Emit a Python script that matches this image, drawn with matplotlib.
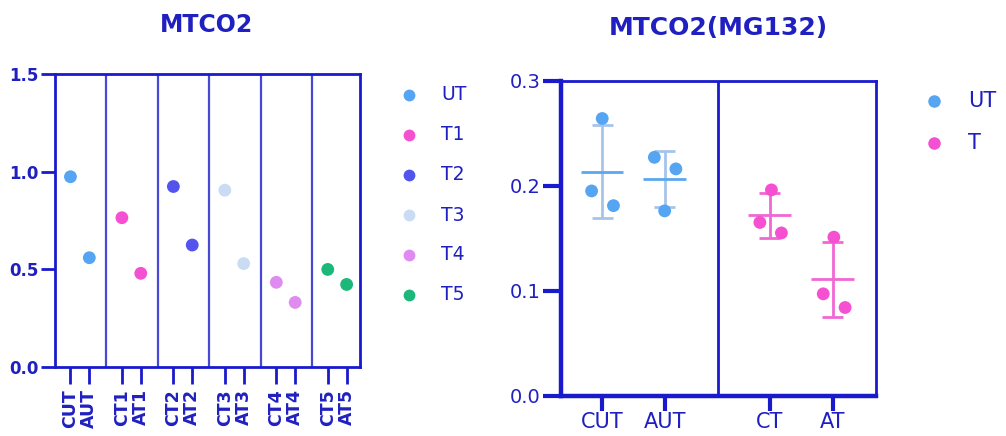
import numpy as np
import matplotlib
matplotlib.use("Agg")
import matplotlib.pyplot as plt
from matplotlib.lines import Line2D

# ---------------- data ----------------
left_labels = ["CUT", "AUT", "CT1", "AT1", "CT2", "AT2", "CT3", "AT3", "CT4", "AT4", "CT5", "AT5"]
left_values = [0.975, 0.56, 0.765, 0.48, 0.925, 0.625, 0.906, 0.53, 0.434, 0.331, 0.50, 0.423]
left_groups = ["UT", "T1", "T2", "T3", "T4", "T5"]
left_colors = ["#55a5f2", "#f550d2", "#5353ee", "#c9dcf4", "#df8cf0", "#1cb87a"]

right_labels = ["CUT", "AUT", "CT", "AT"]
right_values = [
    [0.264, 0.195, 0.181],
    [0.227, 0.216, 0.176],
    [0.196, 0.165, 0.155],
    [0.151, 0.097, 0.084],
]
right_groups = ["UT", "T"]
right_colors = ["#55a5f2", "#f550d2"]
right_err_colors = ["#a6c4ea", "#a6c4ea", "#f068d4", "#f068d4"]
right_mean_colors = ["#5aa8f0", "#5aa8f0", "#f068d4", "#f068d4"]

AX = "#1a1acd"
TXT = "#2020c0"

fig = plt.figure(figsize=(10.06, 4.36), dpi=100)
plt.rcParams['font.family'] = ['DejaVu Sans']

# ---------------- left chart ----------------
axL = fig.add_axes([55/1006, 1-367/436, (359.5-55)/1006, (367-74.3)/436])
xs = []
for g in range(6):
    xs += [g*3 + 0.9, g*3 + 2.0]
for i, (x, v) in enumerate(zip(xs, left_values)):
    axL.scatter(x, v, s=85, color=left_colors[i // 2], edgecolors='none', zorder=3, clip_on=False)
for s in range(1, 6):
    axL.axvline(s*3, color="#4848d6", lw=1.6, zorder=1)
axL.set_xlim(0, 17.75)
axL.set_ylim(0, 1.5)
axL.set_yticks([0.0, 0.5, 1.0, 1.5])
axL.set_yticklabels(["0.0", "0.5", "1.0", "1.5"])
axL.set_xticks(xs)
axL.set_xticklabels(left_labels, rotation=90)
for sp in axL.spines.values():
    sp.set_color(AX)
    sp.set_linewidth(2)
axL.tick_params(axis='y', colors=AX, length=10, width=2, labelsize=12, pad=2)
axL.tick_params(axis='x', colors=AX, length=12, width=2, labelsize=12.5, pad=4)
for lab in axL.get_yticklabels() + axL.get_xticklabels():
    lab.set_fontweight('bold')
    lab.set_color(TXT)
fig.text(207/1006, 1-25/436, "MTCO2", ha='center', va='center', fontsize=17,
         fontweight='bold', color=TXT)

# left legend
for i, (name, c) in enumerate(zip(left_groups, left_colors)):
    y = 1 - (95 + 40*i)/436
    fig.add_artist(Line2D([409/1006], [y], marker='o', markersize=8.5, color=c,
                          markeredgewidth=0, linestyle='none', transform=fig.transFigure))
    fig.text(441/1006, y, name, ha='left', va='center', fontsize=13.5, color=TXT)

# ---------------- right chart ----------------
axR = fig.add_axes([561/1006, 1-395.7/436, (875.7-561)/1006, (395.7-80.7)/436])
pos = [0, 1, 2.68, 3.69]
jit = [[0.0, -0.17, 0.18], [-0.165, 0.18, 0.0], [0.03, -0.155, 0.19], [0.02, -0.15, 0.2]]
for k, (p, vals) in enumerate(zip(pos, right_values)):
    vals = np.array(vals)
    m = vals.mean()
    sd = vals.std(ddof=1)
    col = right_colors[0] if k < 2 else right_colors[1]
    axR.vlines(p, m - sd, m + sd, color=right_err_colors[k], lw=2, zorder=2)
    axR.hlines([m - sd, m + sd], p - 0.17, p + 0.17, color=right_err_colors[k], lw=2, zorder=2)
    axR.hlines(m, p - 0.34, p + 0.34, color=right_mean_colors[k], lw=2, zorder=2)
    axR.scatter(p + np.array(jit[k]), vals, s=85, color=col, edgecolors='none', zorder=3)
axR.axvline(1.85, color=AX, lw=2, zorder=1)
axR.set_xlim(-0.66, 4.38)
axR.set_ylim(0, 0.3)
axR.set_yticks([0.0, 0.1, 0.2, 0.3])
axR.set_yticklabels(["0.0", "0.1", "0.2", "0.3"])
axR.set_xticks(pos)
axR.set_xticklabels(right_labels)
for name, sp in axR.spines.items():
    sp.set_color(AX)
    sp.set_linewidth(3.2 if name in ("left", "bottom") else 2)
axR.tick_params(axis='y', colors=AX, length=13, width=3, labelsize=14, pad=2)
axR.tick_params(axis='x', colors=AX, length=11, width=3, labelsize=15, pad=1)
for lab in axR.get_yticklabels() + axR.get_xticklabels():
    lab.set_color(TXT)
fig.text(718/1006, 1-28/436, "MTCO2(MG132)", ha='center', va='center', fontsize=18,
         fontweight='bold', color=TXT)

for i, (name, c) in enumerate(zip(right_groups, right_colors)):
    y = 1 - (101 + 42*i)/436
    fig.add_artist(Line2D([934/1006], [y], marker='o', markersize=9, color=c,
                          markeredgewidth=0, linestyle='none', transform=fig.transFigure))
    fig.text(968/1006, y, name, ha='left', va='center', fontsize=15, color=TXT)

fig.savefig("out.png", dpi=100)
